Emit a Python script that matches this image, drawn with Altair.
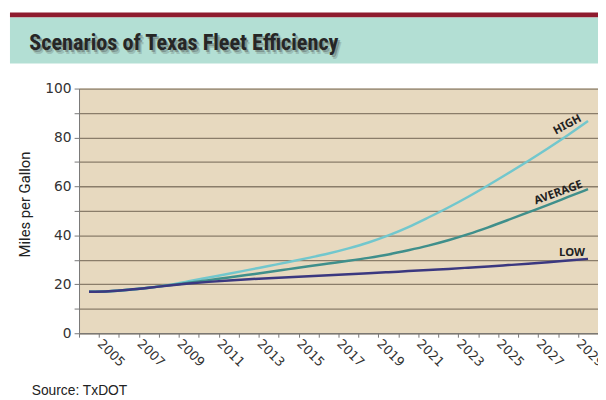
import altair as alt
import pandas as pd

# ---- data ----
years = list(range(2005, 2031))
high = [17.0, 17.2, 17.8, 18.6, 19.7, 21.3, 22.8, 24.3, 25.9, 27.5, 29.1, 30.8, 32.6,
        34.7, 37.1, 40.0, 43.4, 47.3, 51.4, 55.8, 60.5, 65.4, 70.4, 75.6, 81.0, 86.7]
average = [17.0, 17.2, 17.8, 18.6, 19.6, 20.6, 21.7, 22.8, 23.9, 25.0, 26.2, 27.4, 28.5,
           29.6, 30.8, 32.2, 33.9, 35.8, 38.0, 40.5, 43.3, 46.3, 49.4, 52.5, 55.7, 58.9]
low = [17.0, 17.2, 17.8, 18.6, 19.5, 20.3, 21.0, 21.6, 22.1, 22.5, 22.9, 23.3, 23.7,
       24.1, 24.5, 24.95, 25.4, 25.85, 26.3, 26.8, 27.3, 27.85, 28.4, 29.0, 29.7, 30.4]

series_names = ["HIGH", "AVERAGE", "LOW"]
series_colors = ["#72c7cd", "#3f8f8b", "#3b3880"]

label_text = ["HIGH", "AVERAGE", "LOW"]
label_year = [2028.97, 2028.52, 2029.2]
label_value = [85.1, 57.3, 32.9]
label_angle = [332, 340, 0]

y_ticks = list(range(0, 101, 10))
x_bounds = [2004.5 + i for i in range(27)]

title_text = "Scenarios of Texas Fleet Efficiency"
source_text = "Source: TxDOT"
y_title = "Miles per Gallon"

rows = []
for name, vals in zip(series_names, [high, average, low]):
    for yr, v in zip(years, vals):
        rows.append({"year": yr, "mpg": v, "scenario": name})
df = pd.DataFrame(rows)
lab = pd.DataFrame({"text": label_text, "year": label_year, "mpg": label_value, "angle": label_angle})
one = pd.DataFrame({"k": [0]})

W, H = 526, 248

xscale = alt.Scale(domain=[2004.5, 2030.5], nice=False, zero=False)
yscale = alt.Scale(domain=[0, 100], nice=False)

xaxis = alt.Axis(
    values=x_bounds,
    labelExpr="datum.value % 2 == 1.5 ? toString(datum.value - 0.5) : ''",
    labelAngle=45, labelAlign="left", labelBaseline="middle",
    labelFont="DejaVu Sans", labelFontSize=13, labelColor="#333333",
    labelPadding=4, tickSize=4, tickColor="#777777", domainColor="#777777",
    grid=False, title=None, labelOverlap=False, labelBound=False, labelFlush=False,
)
yaxis = alt.Axis(
    values=y_ticks,
    labelExpr="datum.value % 20 == 0 ? datum.label : ''",
    labelFont="DejaVu Sans", labelFontSize=14, labelColor="#333333", labelPadding=3,
    tickSize=5, tickColor="#777777", domainColor="#777777",
    grid=True, gridColor="#8a7d6a", gridWidth=1.3,
    title=y_title, titleFont="Roboto", titleFontSize=15,
    titleFontWeight="normal", titleColor="#222222", titleAngle=-90,
    titleX=-55, titleY=117, titleAlign="center", titleBaseline="middle",
)

lines = alt.Chart(df).mark_line(strokeWidth=2.5, interpolate="monotone").encode(
    x=alt.X("year:Q", scale=xscale, axis=xaxis),
    y=alt.Y("mpg:Q", scale=yscale, axis=yaxis),
    color=alt.Color("scenario:N", scale=alt.Scale(domain=series_names, range=series_colors), legend=None),
)

labels = alt.Chart(lab).mark_text(font="Noto Sans", fontWeight="bold", fontSize=11.5,
                                  color="#222222", align="center", baseline="middle").encode(
    x=alt.X("year:Q", scale=xscale, axis=xaxis),
    y=alt.Y("mpg:Q", scale=yscale, axis=yaxis),
    text="text:N",
    angle=alt.Angle("angle:Q", scale=None),
)

red_bar = alt.Chart(one).mark_rect(color="#8e1b2e", clip=False).encode(
    x=alt.value(-70), x2=alt.value(W), y=alt.value(-77), y2=alt.value(-72))
banner = alt.Chart(one).mark_rect(color="#b3dfd4", clip=False).encode(
    x=alt.value(-70), x2=alt.value(W), y=alt.value(-72), y2=alt.value(-25.5))

tfont = "Roboto Condensed, DejaVu Sans Condensed, Roboto"
tsize = 22.5
shadow1 = alt.Chart(one).mark_text(text=title_text, font=tfont, fontWeight="bold", fontSize=tsize,
                                   color="#444444", opacity=0.2, align="left", baseline="alphabetic").encode(
    x=alt.value(-47.3), y=alt.value(-35.3))
shadow2 = alt.Chart(one).mark_text(text=title_text, font=tfont, fontWeight="bold", fontSize=tsize,
                                   color="#444444", opacity=0.35, align="left", baseline="alphabetic").encode(
    x=alt.value(-48.5), y=alt.value(-36.7))
title = alt.Chart(one).mark_text(text=title_text, font=tfont, fontWeight="bold", fontSize=tsize,
                                 color="#262626", align="left", baseline="alphabetic").encode(
    x=alt.value(-50.5), y=alt.value(-38.7))
source = alt.Chart(one).mark_text(text=source_text, font="Liberation Sans", fontSize=14,
                                  color="#222222", align="left", baseline="alphabetic").encode(
    x=alt.value(-48), y=alt.value(311))

chart = alt.layer(red_bar, banner, shadow1, shadow2, title, source, lines, labels).properties(
    width=W, height=H,
    autosize=alt.AutoSizeParams(type="none"),
    padding={"left": 72, "top": 79, "right": 0, "bottom": 65},
    background="white",
).configure_view(fill="#e7d9bf", stroke=None)

chart.save("out.html", embed_options={"renderer": "svg", "actions": False})
